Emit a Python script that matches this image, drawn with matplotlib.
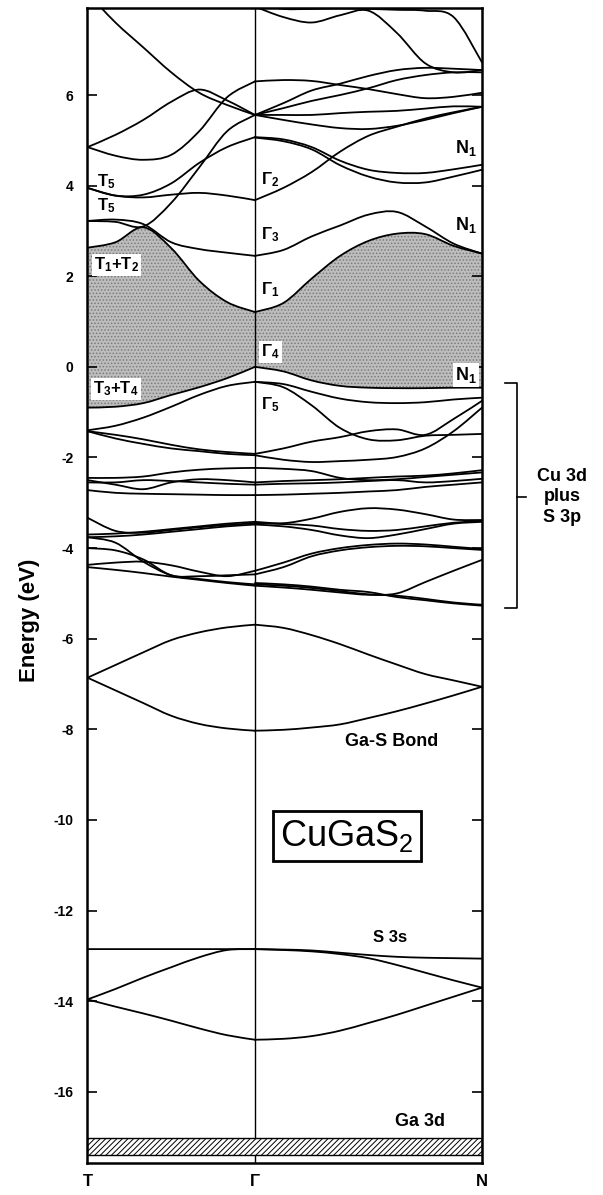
import numpy as np
import matplotlib
matplotlib.use("Agg")
import matplotlib.pyplot as plt
from matplotlib.path import Path
from matplotlib.patches import PathPatch, Rectangle

plt.rcParams['font.family'] = ['Liberation Sans', 'DejaVu Sans']
plt.rcParams['mathtext.default'] = 'regular'
plt.rcParams['axes.unicode_minus'] = False

# k-path T -> Gamma -> N (Gamma is point 6)
k_labels = ['T', 'Γ', 'N']
k_gamma = 0.4246
k_pts = [0.0, 0.0708, 0.1415, 0.2123, 0.2831, 0.3538, 0.4246,
         0.4965, 0.5684, 0.6404, 0.7123, 0.7842, 0.8561, 0.9281, 1.0]
NA = None

# conduction bands (eV)
cb_u1 = [8.25, 7.6, 7.05, 6.5, 6.05, 5.78, 5.56, 5.82, 6.1, 6.25, 6.42, 6.55, 6.6, 6.58, 6.55]
cb_u2 = [4.85, 5.12, 5.45, 5.85, 6.12, 5.88, 5.56, 5.71, 5.87, 6.0, 6.15, 6.33, 6.44, 6.5, 6.5]
cb_q = [3.22, 3.2, 3.1, 3.62, 4.4, 5.2, 5.56, 5.56, 5.56, 5.6, 5.63, 5.65, 5.7, 5.75, 5.74]
cb_k4 = [NA, NA, NA, NA, NA, NA, 5.56, 5.45, 5.35, 5.27, 5.25, 5.32, 5.45, 5.6, 5.74]
cb_u3 = [4.85, 4.66, 4.57, 4.68, 5.2, 5.95, 6.3, 6.33, 6.31, 6.22, 6.13, 6.02, 5.93, 5.96, 6.05]
cb_m1 = [NA, NA, NA, NA, NA, NA, 8.0, 7.9, 7.9, 7.91, 7.9, 7.88, 7.86, 7.72, 6.72]
cb_m2 = [NA, NA, NA, NA, NA, NA, 7.95, 7.72, 7.6, 7.76, 7.86, 7.37, 6.7, 6.5, 6.55]
cb_r = [3.95, 3.78, 3.8, 4.05, 4.5, 4.85, 5.07, 5.02, 4.85, 4.55, 4.35, 4.28, 4.28, 4.36, 4.46]
cb_g5b = [NA, NA, NA, NA, NA, NA, 5.06, 4.98, 4.8, 4.45, 4.2, 4.07, 4.07, 4.2, 4.35]
cb_g2 = [3.95, 3.78, 3.74, 3.8, 3.84, 3.78, 3.68, 3.95, 4.3, 4.75, 5.1, 5.3, 5.48, 5.62, 5.74]
cb_p = [3.22, 3.25, 3.15, 2.75, 2.6, 2.52, 2.45, 2.58, 2.88, 3.12, 3.36, 3.42, 3.1, 2.72, 2.5]
cb_c1 = [2.63, 2.75, 3.08, 2.62, 1.9, 1.43, 1.21, 1.41, 1.95, 2.45, 2.78, 2.94, 2.93, 2.67, 2.5]

# valence bands (eV)
vb_v1 = [-0.9, -0.88, -0.8, -0.62, -0.45, -0.25, 0.0, -0.1, -0.3, -0.42, -0.46, -0.47, -0.47, -0.46, -0.46]
vb_v2 = [-1.4, -1.3, -1.12, -0.88, -0.62, -0.42, -0.33, -0.38, -0.55, -0.7, -0.78, -0.8, -0.78, -0.72, -0.68]
vb_g5 = [NA, NA, NA, NA, NA, NA, -0.33, -0.45, -0.85, -1.35, -1.6, -1.62, -1.52, -1.5, -1.48]
vb_v3 = [-1.42, -1.5, -1.6, -1.72, -1.82, -1.88, -1.92, -1.8, -1.65, -1.55, -1.42, -1.38, -1.5, -1.15, -0.75]
vb_v4 = [-1.42, -1.58, -1.7, -1.8, -1.86, -1.92, -1.95, -2.05, -2.1, -2.08, -2.05, -1.99, -1.8, -1.42, -0.9]
vb_w1 = [-2.45, -2.45, -2.42, -2.33, -2.27, -2.24, -2.23, -2.25, -2.3, -2.45, -2.5, -2.48, -2.43, -2.38, -2.33]
vb_w2 = [-2.5, -2.6, -2.7, -2.55, -2.48, -2.5, -2.55, -2.52, -2.5, -2.48, -2.45, -2.42, -2.4, -2.35, -2.28]
vb_w3 = [-2.72, -2.78, -2.8, -2.81, -2.82, -2.83, -2.83, -2.82, -2.8, -2.78, -2.75, -2.72, -2.65, -2.6, -2.55]
vb_w4 = [-2.55, -2.55, -2.5, -2.52, -2.55, -2.58, -2.6, -2.58, -2.57, -2.55, -2.52, -2.5, -2.55, -2.52, -2.47]
vb_x1 = [-3.7, -3.68, -3.64, -3.58, -3.52, -3.46, -3.42, -3.45, -3.35, -3.2, -3.12, -3.15, -3.25, -3.37, -3.38]
vb_x2 = [-3.76, -3.74, -3.7, -3.64, -3.58, -3.52, -3.48, -3.52, -3.6, -3.72, -3.78, -3.7, -3.58, -3.46, -3.42]
vb_x3 = [-3.33, -3.62, -3.66, -3.6, -3.54, -3.49, -3.45, -3.47, -3.5, -3.58, -3.62, -3.6, -3.52, -3.44, -3.4]
vb_x4 = [-3.76, -3.88, -4.3, -4.6, -4.68, -4.75, -4.8, -4.83, -4.88, -4.95, -5.02, -5.05, -5.12, -5.2, -5.25]
vb_x5 = [-4.0, -4.05, -4.25, -4.6, -4.62, -4.6, -4.58, -4.42, -4.18, -4.05, -3.98, -3.95, -3.96, -4.0, -4.04]
vb_x6 = [-4.37, -4.32, -4.3, -4.38, -4.52, -4.62, -4.5, -4.32, -4.12, -4.0, -3.93, -3.9, -3.92, -3.97, -4.02]
vb_x7 = [-4.42, -4.48, -4.55, -4.63, -4.7, -4.77, -4.83, -4.87, -4.92, -4.98, -5.03, -5.0, -4.75, -4.5, -4.26]
vb_x8 = [NA, NA, NA, NA, NA, NA, -4.77, -4.8, -4.85, -4.92, -4.97, -5.08, -5.15, -5.22, -5.27]

# Ga-S bonding bands
gas_up = [-6.86, -6.58, -6.3, -6.03, -5.86, -5.75, -5.69, -5.76, -5.92, -6.12, -6.35, -6.57, -6.78, -6.92, -7.06]
gas_lo = [-6.86, -7.14, -7.42, -7.7, -7.88, -7.98, -8.03, -8.01, -7.96, -7.89, -7.75, -7.6, -7.43, -7.25, -7.06]

# S 3s bands
s3s_1 = [-12.85, -12.85, -12.85, -12.85, -12.85, -12.85, -12.85, -12.86, -12.88, -12.93, -12.98, -13.02, -13.04, -13.05, -13.06]
s3s_2 = [-13.96, -13.73, -13.48, -13.25, -13.03, -12.87, -12.85, -12.87, -12.9, -12.96, -13.05, -13.2, -13.37, -13.54, -13.7]
s3s_3 = [-13.96, -14.12, -14.27, -14.43, -14.6, -14.75, -14.85, -14.83, -14.77, -14.65, -14.48, -14.3, -14.1, -13.9, -13.7]

# Ga 3d band limits
ga3d_top = -17.02
ga3d_bottom = -17.4

bands = [cb_u1, cb_u2, cb_q, cb_k4, cb_u3, cb_m1, cb_m2, cb_r, cb_g5b, cb_g2, cb_p, cb_c1,
         vb_v1, vb_v2, vb_g5, vb_v3, vb_v4, vb_w1, vb_w2, vb_w3, vb_w4,
         vb_x1, vb_x2, vb_x3, vb_x4, vb_x5, vb_x6, vb_x7, vb_x8,
         gas_up, gas_lo, s3s_1, s3s_2, s3s_3]


def bezier_verts(xs, ys):
    # smooth curve through the points (Catmull-Rom as cubic Bezier)
    pts = list(zip(xs, ys))
    n = len(pts)
    verts = [pts[0]]
    for i in range(n - 1):
        p0 = pts[max(i - 1, 0)]
        p1 = pts[i]
        p2 = pts[i + 1]
        p3 = pts[min(i + 2, n - 1)]
        c1 = (p1[0] + (p2[0] - p0[0]) / 6, p1[1] + (p2[1] - p0[1]) / 6)
        c2 = (p2[0] - (p3[0] - p1[0]) / 6, p2[1] - (p3[1] - p1[1]) / 6)
        verts += [c1, c2, p2]
    return verts


def band_verts(vals):
    # each branch (T-Gamma, Gamma-N) is smoothed on its own
    out = []
    for lo, hi in [(0, 7), (6, 15)]:
        xs = [k_pts[i] for i in range(lo, hi) if vals[i] is not None]
        ys = [vals[i] for i in range(lo, hi) if vals[i] is not None]
        if len(xs) > 1:
            out.append(bezier_verts(xs, ys))
    return out


fig = plt.figure(figsize=(6.03, 11.95), dpi=100)
ax = fig.add_axes([0.1451, 0.0268, 0.6542, 0.9665])
ax.set_xlim(0, 1)
ax.set_ylim(-17.57, 7.92)

# shaded region between lowest conduction band and top valence band
top = band_verts(cb_c1)
bot = band_verts(vb_v1)
top_v = top[0] + top[1][1:]
bot_v = bot[0] + bot[1][1:]
verts = top_v + bot_v[::-1] + [top_v[0]]
codes = ([Path.MOVETO] + [Path.CURVE4] * (len(top_v) - 1) + [Path.LINETO]
         + [Path.CURVE4] * (len(bot_v) - 1) + [Path.CLOSEPOLY])
plt.rcParams['hatch.linewidth'] = 0.7
ax.add_patch(PathPatch(Path(verts, codes), facecolor='#bdbdbd', edgecolor='#7a7a7a',
                       hatch='.....', lw=0, zorder=1))

for b in bands:
    for vv in band_verts(b):
        codes = [Path.MOVETO] + [Path.CURVE4] * (len(vv) - 1)
        ax.add_patch(PathPatch(Path(vv, codes), fill=False, edgecolor='black',
                               lw=1.3, zorder=3, capstyle='round'))

ax.axvline(k_gamma, color='black', lw=1.0, zorder=2)

# Ga 3d hatched band
ax.add_patch(Rectangle((0, ga3d_bottom), 1, ga3d_top - ga3d_bottom, facecolor='white',
                       edgecolor='black', hatch='//////', lw=1.0, zorder=2))

for s in ax.spines.values():
    s.set_linewidth(1.8)

ax.set_yticks(range(-16, 7, 2))
ax.set_yticklabels([str(v) for v in range(-16, 7, 2)], fontweight='bold')
ax.tick_params(axis='y', direction='in', length=7, width=1.2, right=True,
               labelsize=10, pad=10)
ax.set_xticks([0, k_gamma, 1])
ax.set_xticklabels(k_labels, fontweight='bold')
ax.tick_params(axis='x', length=0, labelsize=12, pad=8)

fig.text(30 / 603, 1 - 620 / 1195, 'Energy (eV)', rotation=90, ha='center',
         va='center', fontsize=16, fontweight='bold')

wbox = dict(facecolor='white', edgecolor='none', pad=1.5)
lab = dict(fontsize=12, va='center', zorder=5, fontweight='bold')
ax.text(0.024, 4.08, 'T$_5$', ha='left', **lab)
ax.text(0.024, 3.55, 'T$_5$', ha='left', **lab)
ax.text(0.016, 2.25, 'T$_1$+T$_2$', ha='left', bbox=wbox, **lab)
ax.text(0.014, -0.49, 'T$_3$+T$_4$', ha='left', bbox=wbox, **lab)
ax.text(0.44, 4.13, 'Γ$_2$', ha='left', **lab)
ax.text(0.44, 2.91, 'Γ$_3$', ha='left', **lab)
ax.text(0.44, 1.70, 'Γ$_1$', ha='left', **lab)
ax.text(0.44, 0.33, 'Γ$_4$', ha='left', bbox=wbox, **lab)
ax.text(0.44, -0.84, 'Γ$_5$', ha='left', **lab)
lab_n = dict(fontsize=13, va='center', ha='right', zorder=5, fontweight='bold')
ax.text(0.987, 4.83, 'N$_1$', **lab_n)
ax.text(0.987, 3.13, 'N$_1$', **lab_n)
ax.text(0.987, -0.18, 'N$_1$', bbox=wbox, **lab_n)

ax.text(0.772, -8.27, 'Ga-S Bond', ha='center', va='center', fontsize=13,
        fontweight='bold')
ax.text(0.658, -10.35, 'CuGaS$_2$', ha='center', va='center', fontsize=26,
        bbox=dict(boxstyle='square,pad=0.2', facecolor='white', edgecolor='black', lw=2))
ax.text(0.767, -12.6, 'S 3s', ha='center', va='center', fontsize=12, fontweight='bold')
ax.text(0.843, -16.66, 'Ga 3d', ha='center', va='center', fontsize=13, fontweight='bold')

# bracket for the Cu 3d / S 3p manifold
bx, bx0, bx1 = 1.089, 1.058, 1.111
ax.plot([bx0, bx, bx, bx0], [-0.35, -0.35, -5.32, -5.32], color='black', lw=1.2,
        clip_on=False)
ax.plot([bx, bx1], [-2.87, -2.87], color='black', lw=1.2, clip_on=False)
ax.text(1.203, -2.87, 'Cu 3d\nplus\nS 3p', ha='center', va='center', fontsize=13,
        linespacing=1.25, clip_on=False, fontweight='bold')

fig.savefig('out.png', dpi=100)
